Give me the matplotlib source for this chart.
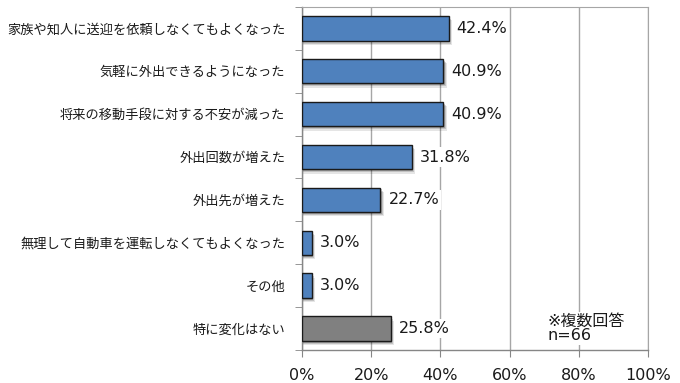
import matplotlib
matplotlib.use("Agg")
import matplotlib.pyplot as plt
import numpy as np

plt.rcParams['font.family'] = ['DejaVu Sans', 'Noto Sans CJK JP']

categories = ["家族や知人に送迎を依頼しなくてもよくなった",
              "気軽に外出できるようになった",
              "将来の移動手段に対する不安が減った",
              "外出回数が増えた",
              "外出先が増えた",
              "無理して自動車を運転しなくてもよくなった",
              "その他",
              "特に変化はない"]
values = [42.4, 40.9, 40.9, 31.8, 22.7, 3.0, 3.0, 25.8]
value_labels = ["42.4%", "40.9%", "40.9%", "31.8%", "22.7%", "3.0%", "3.0%", "25.8%"]
xticks = [0, 20, 40, 60, 80, 100]
note = "※複数回答\nn=66"

colors = ["#4F81BD"] * 7 + ["#808080"]

fig = plt.figure(figsize=(6.8, 3.83), dpi=100)
ax = fig.add_axes([0.444, 0.086, 0.509, 0.896])

y = np.arange(len(categories))
h = 0.57

# soft shadow behind bars
for dx, dy, a in [(0.9, 0.10, 0.10), (0.6, 0.07, 0.15), (0.3, 0.04, 0.2)]:
    ax.barh(y + dy, [v + dx for v in values], height=h, color="black",
            alpha=a, zorder=2, linewidth=0)

ax.barh(y, values, height=h, color=colors, edgecolor="#1a1a1a",
        linewidth=1.0, zorder=3)

for yi, v, lab in zip(y, values, value_labels):
    ax.text(v + 2.3, yi, lab, va="center", ha="left", fontsize=11.5,
            color="#1a1a1a", zorder=4,
            bbox=dict(facecolor="white", edgecolor="none", pad=1.5))

ax.text(71.0, 7.0, note, fontsize=11.5, color="#1a1a1a", va="center",
        ha="left", linespacing=0.95, zorder=4,
        bbox=dict(facecolor="white", edgecolor="none", pad=1.0))

ax.set_xlim(0, 100)
ax.set_ylim(len(categories) - 0.5, -0.5)
ax.set_xticks(xticks)
ax.set_xticklabels([f"{t}%" for t in xticks], fontsize=11.5, color="#1a1a1a")
ax.set_yticks(y)
ax.set_yticklabels(categories, fontsize=9.5, family=['Noto Sans CJK JP'],
                   color="#1a1a1a")
ax.tick_params(axis='y', length=0, pad=12)
ax.set_yticks(np.arange(-0.5, len(categories) + 0.5, 1), minor=True)
ax.tick_params(axis='y', which='minor', length=5, color="#868686")
ax.tick_params(axis='x', length=5, color="#868686", pad=8)

ax.grid(axis='x', color="#A6A6A6", linewidth=1.0, zorder=0)
ax.set_axisbelow(True)
for s in ["top", "right"]:
    ax.spines[s].set_color("#A6A6A6")
for s in ["left", "bottom"]:
    ax.spines[s].set_color("#868686")
    ax.spines[s].set_linewidth(1.0)

fig.savefig("out.png", dpi=100, facecolor="white")
